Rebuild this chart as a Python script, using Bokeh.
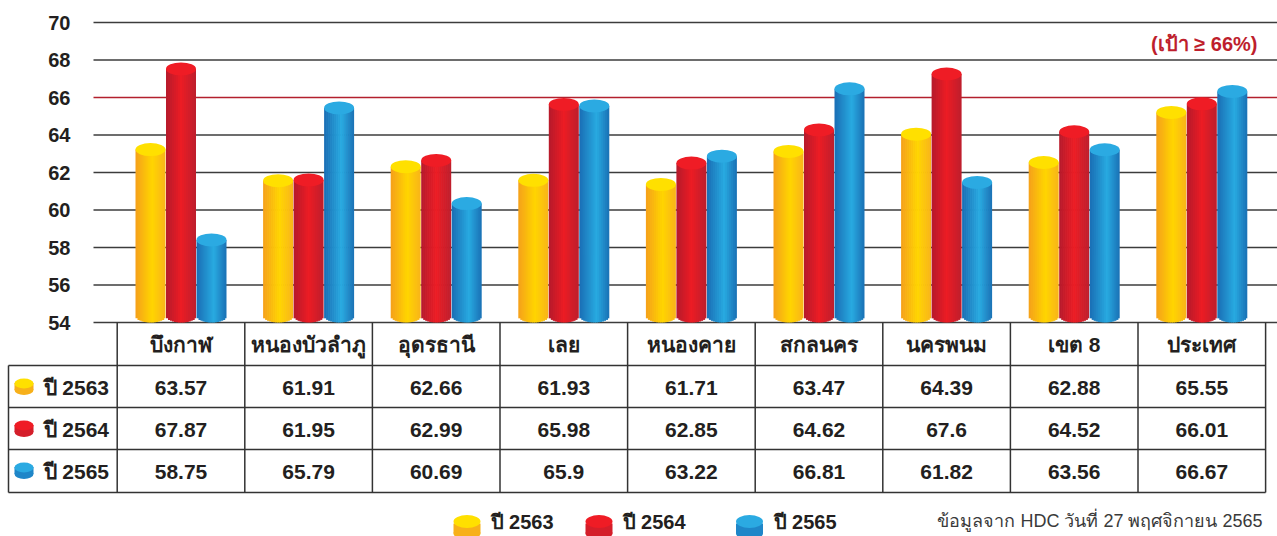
import math
from bokeh.plotting import figure
from bokeh.models import Range1d, LinearAxis, FixedTicker
from bokeh.core.properties import value
from bokeh.embed import file_html
from bokeh.resources import INLINE

# ---------------- data ----------------
categories = ["บึงกาฬ", "หนองบัวลำภู", "อุดรธานี", "เลย", "หนองคาย",
              "สกลนคร", "นครพนม", "เขต 8", "ประเทศ"]
series_names = ["ปี 2563", "ปี 2564", "ปี 2565"]
y2563 = [63.57, 61.91, 62.66, 61.93, 61.71, 63.47, 64.39, 62.88, 65.55]
y2564 = [67.87, 61.95, 62.99, 65.98, 62.85, 64.62, 67.6, 64.52, 66.01]
y2565 = [58.75, 65.79, 60.69, 65.9, 63.22, 66.81, 61.82, 63.56, 66.67]
y_ticks = [54, 56, 58, 60, 62, 64, 66, 68, 70]
target = 66
target_label = "(เป้า ≥ 66%)"
source_note = "ข้อมูลจาก HDC วันที่ 27 พฤศจิกายน 2565"

series_values = [y2563, y2564, y2565]

# ---------------- styling ----------------
W, H = 1277, 536
PX_COL = 127.6      # px per category column
COL0 = 180.5        # px centre of first column
PX_UNIT = 18.75     # px per value unit
Y_TOP_PX = 22       # px of top tick
y_max = max(y_ticks)
y_min = min(y_ticks)

x_start = -COL0 / PX_COL
x_end = x_start + W / PX_COL
y_top = y_max + Y_TOP_PX / PX_UNIT
y_bot = y_max - (H - Y_TOP_PX) / PX_UNIT


def xpx(px):
    return x_start + px / PX_COL


def ypx(py):
    return y_top - py / PX_UNIT


def dx(px):
    return px / PX_COL


def dy(px):
    return px / PX_UNIT


gradients = [
    [(0.0, "#F5A01B"), (0.55, "#FFD500"), (1.0, "#F9B41A")],
    [(0.0, "#B51A2B"), (0.5, "#EC1C24"), (1.0, "#BD1E2D")],
    [(0.0, "#1A6EB4"), (0.58, "#28AAE1"), (1.0, "#1A70B5")],
]
cap_colors = ["#FFE000", "#EF1C25", "#2BAAE2"]
bottom_colors = ["#F7B01A", "#D41E2A", "#1F86C8"]


def hex2rgb(h):
    h = h.lstrip("#")
    return tuple(int(h[i:i + 2], 16) for i in (0, 2, 4))


def grad(stops, t):
    for (t0, c0), (t1, c1) in zip(stops[:-1], stops[1:]):
        if t0 <= t <= t1:
            f = (t - t0) / (t1 - t0)
            a, b = hex2rgb(c0), hex2rgb(c1)
            r = [round(a[k] + (b[k] - a[k]) * f) for k in range(3)]
            return "#%02x%02x%02x" % tuple(r)
    return stops[-1][1]


NUM_FONT = "'Liberation Sans', Arial, 'Noto Sans', sans-serif"
THAI_FONT = "'Liberation Sans', 'Noto Sans', sans-serif"
TEXT_COLOR = "#231F20"

p = figure(width=W, height=H, output_backend="svg", toolbar_location=None,
           x_range=Range1d(x_start, x_end), y_range=Range1d(y_bot, y_top),
           x_axis_type=None, y_axis_type=None, min_border=0,
           min_border_left=0, min_border_right=0, min_border_top=0, min_border_bottom=0)
p.outline_line_color = None
p.grid.visible = False
p.background_fill_color = "white"

# ---------- y axis ----------
yaxis = LinearAxis(ticker=FixedTicker(ticks=y_ticks), fixed_location=xpx(93))
yaxis.axis_line_color = None
yaxis.major_tick_line_color = None
yaxis.minor_tick_line_color = None
yaxis.major_label_standoff = 17
yaxis.major_label_text_font = "'Liberation Sans', Arial, sans-serif"
yaxis.major_label_text_font_style = "bold"
yaxis.major_label_text_font_size = "20px"
yaxis.major_label_text_color = TEXT_COLOR
p.add_layout(yaxis, "left")

# ---------- grid lines ----------
grid_vals = [t for t in y_ticks if t != target]
p.segment(x0=[xpx(93)] * len(grid_vals), x1=[x_end] * len(grid_vals),
          y0=grid_vals, y1=grid_vals, line_color="#3C3C3C", line_width=1.6)
p.segment(x0=[xpx(93)], x1=[x_end], y0=[target], y1=[target],
          line_color="#B3202D", line_width=1.6)
p.text(x=[xpx(1257)], y=[ypx(43)], text=[target_label], text_font=value(THAI_FONT),
       text_font_size="20px", text_font_style="bold", text_color="#BE1E2D",
       text_align="right", text_baseline="middle")

# ---------- cylinders ----------
BAR_W = dx(30)
CAP_H = dy(13)
offsets = [dx(-30.5), 0.0, dx(30.5)]
N = 15
OVERLAP = dx(0.7)
for s, vals in enumerate(series_values):
    stops = gradients[s]
    L, R, B, T, C = [], [], [], [], []
    tx, ty = [], []
    for i, v in enumerate(vals):
        xc = i + offsets[s]
        yb = y_min + CAP_H / 2
        yt = v - CAP_H / 2
        for k in range(N):
            t0, t1 = k / N, (k + 1) / N
            tm = (t0 + t1) / 2
            u = 2 * tm - 1
            L.append(xc - BAR_W / 2 + t0 * BAR_W)
            R.append(min(xc - BAR_W / 2 + t1 * BAR_W + OVERLAP, xc + BAR_W / 2))
            B.append(yb - (CAP_H / 2) * math.sqrt(max(0.0, 1 - u * u)))
            T.append(yt)
            C.append(grad(stops, tm))
        tx.append(xc)
        ty.append(yt)
    p.quad(left=L, right=R, bottom=B, top=T, fill_color=C, line_color=None)
    p.ellipse(x=tx, y=ty, width=BAR_W, height=CAP_H, fill_color=cap_colors[s],
              line_color=None)

# ---------- table ----------
LINE_C = "#333333"
row_lines_px = [365, 407, 449, 492]
row_centers_px = [387, 429, 471]
ncat = len(categories)
left_px = 8
right_x = ncat - 0.5
vx = [i - 0.5 for i in range(ncat + 1)]
p.segment(x0=vx, x1=vx, y0=[y_min] * len(vx), y1=[ypx(492)] * len(vx),
          line_color=LINE_C, line_width=1.5)
p.segment(x0=[xpx(left_px)], x1=[xpx(left_px)], y0=[ypx(365)], y1=[ypx(492)],
          line_color=LINE_C, line_width=1.5)
hy = [ypx(r) for r in row_lines_px]
p.segment(x0=[xpx(left_px)] * len(hy), x1=[right_x] * len(hy), y0=hy, y1=hy,
          line_color=LINE_C, line_width=1.5)

# header texts
p.text(x=list(range(ncat)), y=[ypx(344)] * ncat, text=categories,
       text_font=value(THAI_FONT), text_font_size="21px", text_font_style="bold",
       text_color=TEXT_COLOR, text_align="center", text_baseline="middle")

# values
for s, vals in enumerate(series_values):
    p.text(x=list(range(ncat)), y=[ypx(row_centers_px[s])] * ncat,
           text=[str(v) for v in vals], text_font=value(NUM_FONT),
           text_font_size="21px", text_font_style="bold", text_color=TEXT_COLOR,
           text_align="center", text_baseline="middle")

# row labels with small disc icons
for s, name in enumerate(series_names):
    cy = row_centers_px[s]
    p.rect(x=[xpx(23.5)], y=[ypx(cy - 1)], width=dx(19), height=dy(7),
           fill_color=bottom_colors[s], line_color=None)
    p.ellipse(x=[xpx(23.5)], y=[ypx(cy + 2.5)], width=dx(19), height=dy(10),
              fill_color=bottom_colors[s], line_color=None)
    p.ellipse(x=[xpx(23.5)], y=[ypx(cy - 4)], width=dx(19), height=dy(10),
              fill_color=cap_colors[s], line_color=None)
    p.text(x=[xpx(43)], y=[ypx(cy)], text=[name], text_font=value(NUM_FONT),
           text_font_size="21px", text_font_style="bold", text_color=TEXT_COLOR,
           text_align="left", text_baseline="middle")

# ---------- bottom legend ----------
leg_icon_px = [466.5, 598.5, 749]
leg_text_px = [490, 622, 773]
for s, name in enumerate(series_names):
    cx = xpx(leg_icon_px[s])
    p.rect(x=[cx], y=[ypx(528)], width=dx(27), height=dy(10),
           fill_color=bottom_colors[s], line_color=None)
    p.ellipse(x=[cx], y=[ypx(533)], width=dx(27), height=dy(12),
              fill_color=bottom_colors[s], line_color=None)
    p.ellipse(x=[cx], y=[ypx(521)], width=dx(27), height=dy(13),
              fill_color=cap_colors[s], line_color=None)
    p.text(x=[xpx(leg_text_px[s])], y=[ypx(521)], text=[name], text_font=value(NUM_FONT),
           text_font_size="20px", text_font_style="bold", text_color=TEXT_COLOR,
           text_align="left", text_baseline="middle")

p.text(x=[xpx(1262)], y=[ypx(520)], text=[source_note], text_font=value(THAI_FONT),
       text_font_size="18px", text_color="#3A3A3A", text_align="right",
       text_baseline="middle")

open("out.html", "w").write(file_html(p, INLINE))
